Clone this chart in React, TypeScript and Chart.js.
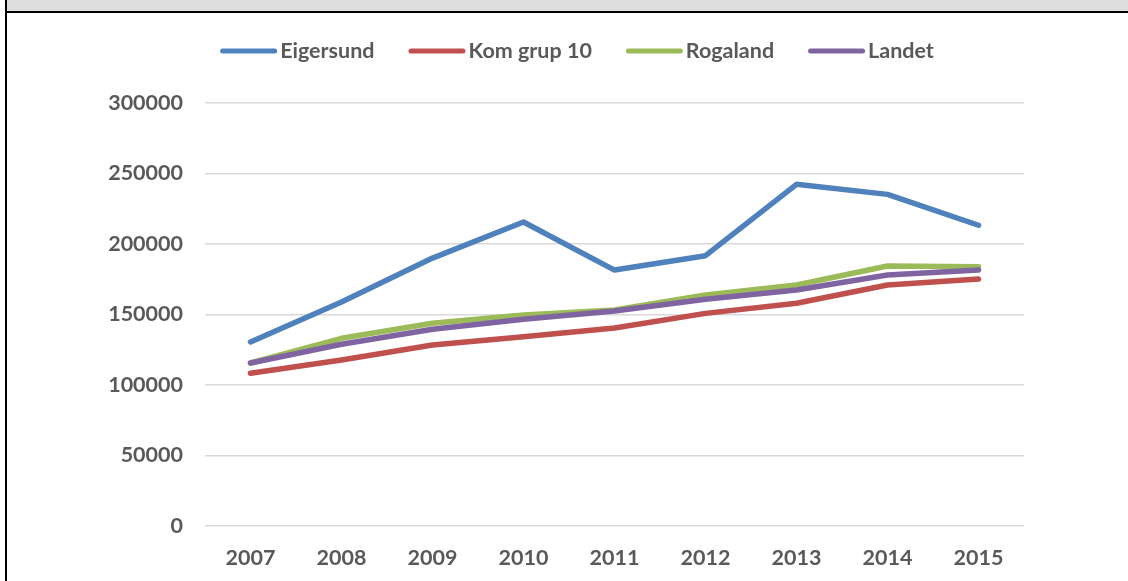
import React, { useEffect, useRef } from "react";
import { Chart, registerables } from "chart.js";

Chart.register(...registerables);

const years = ["2007", "2008", "2009", "2010", "2011", "2012", "2013", "2014", "2015"];
const eigersund = [130500, 158900, 190000, 215600, 181500, 191700, 242300, 235200, 213300];
const komGrup10 = [108300, 117700, 128400, 134300, 140400, 150800, 158000, 170900, 175200];
const rogaland = [115600, 133100, 143800, 149600, 153200, 163800, 170900, 184400, 183900];
const landet = [115600, 128900, 139500, 146600, 152500, 160800, 167400, 178000, 181600];
const seriesNames = ["Eigersund", "Kom grup 10", "Rogaland", "Landet"];
const seriesColors = ["#4f81bd", "#c0504d", "#9bbb59", "#8064a2"];

const FONT_FAMILY = "Lato, 'Open Sans', sans-serif";
const FONT_SIZE = 21.5;
const TEXT_COLOR = "#595959";

const customLegend = {
  id: "customLegend",
  afterDraw(chart: any) {
    const ctx = chart.ctx;
    ctx.save();
    ctx.font = `bold ${FONT_SIZE}px ${FONT_FAMILY}`;
    const lineW = 57;
    const gapText = 3;
    const gapItem = 34;
    const items = chart.data.datasets.map((d: any) => ({
      label: d.label,
      color: d.borderColor,
      w: ctx.measureText(d.label).width,
    }));
    let total = 0;
    items.forEach((it: any, i: number) => {
      total += lineW + gapText + it.w + (i < items.length - 1 ? gapItem : 0);
    });
    const centerX = 577;
    const cy = 51;
    let x = centerX - total / 2;
    items.forEach((it: any) => {
      ctx.strokeStyle = it.color;
      ctx.lineWidth = 5;
      ctx.lineCap = "round";
      ctx.beginPath();
      ctx.moveTo(x + 2.5, cy);
      ctx.lineTo(x + lineW - 2.5, cy);
      ctx.stroke();
      x += lineW + gapText;
      ctx.fillStyle = TEXT_COLOR;
      ctx.textBaseline = "middle";
      ctx.textAlign = "left";
      ctx.fillText(it.label, x, cy);
      x += it.w + gapItem;
    });
    ctx.restore();
  },
};

export default function App() {
  const ref = useRef<HTMLCanvasElement | null>(null);
  useEffect(() => {
    if (!ref.current) return;
    const values = [eigersund, komGrup10, rogaland, landet];
    const orders = [1, 3, 2, 0];
    const chart = new Chart(ref.current, {
      type: "line",
      data: {
        labels: years,
        datasets: values.map((v, i) => ({
          label: seriesNames[i],
          data: v,
          borderColor: seriesColors[i],
          backgroundColor: seriesColors[i],
          borderWidth: 5.5,
          pointRadius: 0,
          pointHoverRadius: 0,
          tension: 0,
          borderCapStyle: "round" as const,
          borderJoinStyle: "round" as const,
          order: orders[i],
        })),
      },
      options: {
        animation: false,
        responsive: false,
        maintainAspectRatio: false,
        layout: { padding: { top: 103, right: 104, bottom: 0, left: 0 } },
        plugins: { legend: { display: false }, tooltip: { enabled: false } },
        scales: {
          x: {
            offset: true,
            grid: { display: false, drawTicks: false },
            border: { display: false },
            ticks: {
              padding: 19,
              color: TEXT_COLOR,
              font: { family: FONT_FAMILY, size: FONT_SIZE, weight: "bold" },
              maxRotation: 0,
            },
            afterFit(scale: any) {
              scale.height = 55;
            },
          },
          y: {
            min: 0,
            max: 300000,
            grid: { color: "#d9d9d9", lineWidth: 1.5, drawTicks: false },
            border: { display: false },
            ticks: {
              stepSize: 50000,
              padding: 22,
              color: TEXT_COLOR,
              font: { family: FONT_FAMILY, size: FONT_SIZE, weight: "bold" },
              callback: (v: any) => String(v),
            },
            afterFit(scale: any) {
              scale.width = 205;
            },
          },
        },
      },
      plugins: [customLegend],
    });
    return () => chart.destroy();
  }, []);

  return (
    <div style={{ position: "fixed", left: 0, top: 0, width: 1128, height: 581, background: "#fff", overflow: "hidden" }}>
      <canvas ref={ref} width={1128} height={581} style={{ position: "absolute", left: 0, top: 0, width: 1128, height: 581 }} />
      <div style={{ position: "absolute", left: 7, top: 0, width: 1121, height: 11, background: "#dedede" }} />
      <div style={{ position: "absolute", left: 5, top: 11, width: 1123, height: 2, background: "#000" }} />
      <div style={{ position: "absolute", left: 5, top: 0, width: 2, height: 581, background: "#000" }} />
    </div>
  );
}
